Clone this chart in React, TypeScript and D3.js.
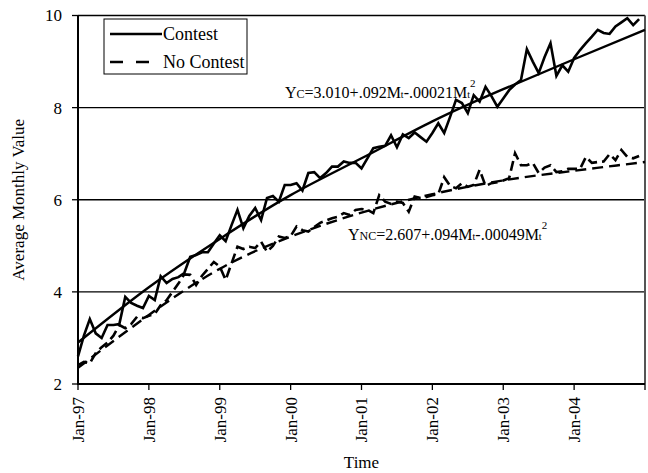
import React from "react";
import * as d3 from "d3";

const xTickLabels = ["Jan-97", "Jan-98", "Jan-99", "Jan-00", "Jan-01", "Jan-02", "Jan-03", "Jan-04"];
const yTicks = [2, 4, 6, 8, 10];

const contest = [
  2.6, 3.05, 3.41, 3.1, 3.0, 3.28, 3.28, 3.3, 3.89, 3.76, 3.7, 3.65,
  3.91, 3.82, 4.34, 4.19, 4.28, 4.32, 4.41, 4.76, 4.8, 4.86, 4.86, 5.05,
  5.23, 5.1, 5.45, 5.78, 5.38, 5.65, 5.82, 5.56, 6.04, 6.08, 5.96, 6.32,
  6.32, 6.36, 6.2, 6.58, 6.6, 6.47, 6.58, 6.72, 6.72, 6.83, 6.8, 6.8,
  6.68, 6.9, 7.12, 7.15, 7.17, 7.4, 7.14, 7.42, 7.34, 7.46, 7.36, 7.26,
  7.45, 7.66, 7.45, 7.8, 8.17, 8.1, 7.88, 8.27, 8.13, 8.45, 8.25, 8.02,
  8.2, 8.38, 8.5, 8.6, 9.27, 9.0, 8.75, 9.1, 9.4, 8.69, 8.92, 8.78,
  9.08, 9.25, 9.4, 9.54, 9.69, 9.62, 9.6, 9.76, 9.85, 9.94, 9.79, 9.92,
];

const noContest = [
  2.41, 2.48, 2.45, 2.67, 2.8, 2.9, 3.05, 3.28, 3.21, 3.3, 3.46, 3.43,
  3.48, 3.52, 3.71, 3.82, 4.0, 4.18, 4.38, 4.37, 4.15, 4.35, 4.5, 4.65,
  4.55, 4.26, 4.62, 4.98, 4.93, 4.98, 4.95, 5.09, 4.87, 5.0, 5.2, 5.17,
  5.21, 5.42, 5.34, 5.31, 5.41, 5.5, 5.55, 5.6, 5.63, 5.71, 5.67, 5.78,
  5.8, 5.78, 5.71, 6.1, 5.96, 5.91, 5.96, 5.93, 5.74, 6.07, 6.04, 6.06,
  6.1, 6.12, 6.49, 6.3, 6.25, 6.36, 6.28, 6.32, 6.65, 6.3, 6.36, 6.38,
  6.42, 6.47, 7.01, 6.75, 6.75, 6.8, 6.58, 6.7, 6.75, 6.6, 6.62, 6.67,
  6.67, 6.67, 6.93, 6.8, 6.82, 6.83, 6.99, 6.86, 7.08, 6.93, 6.9, 6.95,
];

const trendMonths = [0, 12, 24, 36, 48, 60, 72, 84, 96];
const contestTrend = [2.9, 4.1, 5.15, 6.1, 6.9, 7.7, 8.4, 9.05, 9.69];
const noContestTrend = [2.35, 3.5, 4.5, 5.2, 5.72, 6.12, 6.42, 6.63, 6.82];

const W = 648;
const H = 473;
const left = 78;
const right = 645;
const top = 15.5;
const bottom = 384;
const FONT = "'Liberation Serif', 'Times New Roman', Times, 'DejaVu Serif', 'Noto Serif', serif";
const ts = { fontFamily: FONT };

export default function App() {
  const x = d3.scaleLinear().domain([0, 96]).range([left, right]);
  const y = d3.scaleLinear().domain([2, 10]).range([bottom, top]);

  const dataLine = d3
    .line<number>()
    .x((_, i) => x(i))
    .y((d) => y(d));

  const trendLine = d3
    .line<number>()
    .x((_, i) => x(trendMonths[i]))
    .y((d) => y(d))
    .curve(d3.curveNatural);

  return (
    <svg
      width={W}
      height={H}
      style={{ position: "absolute", left: 0, top: 0, background: "#fff", fontFamily: FONT }}
    >
      <rect x={0} y={0} width={W} height={H} fill="#fff" />
      {yTicks
        .filter((t) => t > 2)
        .map((t) => (
          <line key={t} x1={left} x2={right} y1={y(t)} y2={y(t)} stroke="#000" strokeWidth={1.3} />
        ))}
      <line x1={right} x2={right} y1={top} y2={bottom} stroke="#555" strokeWidth={2} />
      <line x1={left} x2={right} y1={bottom} y2={bottom} stroke="#000" strokeWidth={2} />
      <line x1={left} x2={left} y1={top} y2={bottom + 1} stroke="#000" strokeWidth={2} />
      {yTicks.map((t) => (
        <g key={"yt" + t}>
          <line x1={left - 6} x2={left} y1={y(t)} y2={y(t)} stroke="#000" strokeWidth={1.3} />
          <text x={left - 16} y={y(t)} dy="0.35em" textAnchor="end" fontSize={17} style={ts}>
            {t}
          </text>
        </g>
      ))}
      {xTickLabels.map((lab, i) => {
        const tx = x(i * 12);
        return (
          <g key={lab}>
            <line x1={tx} x2={tx} y1={bottom} y2={bottom + 6} stroke="#000" strokeWidth={1.3} />
            <text
              transform={`translate(${tx},${bottom + 13}) rotate(-90)`}
              dy="0.35em"
              textAnchor="end"
              fontSize={17}
              style={ts}
            >
              {lab}
            </text>
          </g>
        );
      })}
      <line x1={right} x2={right} y1={bottom} y2={bottom + 6} stroke="#000" strokeWidth={1.3} />
      <text
        transform={`translate(24,${(top + bottom) / 2}) rotate(-90)`}
        textAnchor="middle"
        fontSize={17}
        style={ts}
      >
        Average Monthly Value
      </text>
      <text x={(left + right) / 2} y={468} textAnchor="middle" fontSize={17} style={ts}>
        Time
      </text>

      <path d={trendLine(contestTrend) || ""} fill="none" stroke="#000" strokeWidth={2.4} />
      <path
        d={trendLine(noContestTrend) || ""}
        fill="none"
        stroke="#000"
        strokeWidth={2.4}
        strokeDasharray="11,6"
      />
      <path d={dataLine(contest) || ""} fill="none" stroke="#000" strokeWidth={2.6} strokeLinejoin="miter" />
      <path
        d={dataLine(noContest) || ""}
        fill="none"
        stroke="#000"
        strokeWidth={2.6}
        strokeDasharray="10,5"
      />

      <text x={285} y={98} fontSize={16} style={ts}>
        Y<tspan fontSize={12}>C</tspan>=3.010+.092M<tspan fontSize={10}>t</tspan>-.00021M
        <tspan fontSize={10}>t</tspan>
        <tspan fontSize={11} dy={-11}>2</tspan>
      </text>
      <text x={348} y={240} fontSize={16} style={ts}>
        Y<tspan fontSize={12}>NC</tspan>=2.607+.094M<tspan fontSize={10}>t</tspan>-.00049M
        <tspan fontSize={10}>t</tspan>
        <tspan fontSize={11} dy={-11}>2</tspan>
      </text>

      <rect x={104} y={19} width={143} height={55} fill="#fff" stroke="#000" strokeWidth={1} />
      <line x1={110} x2={162} y1={34} y2={34} stroke="#000" strokeWidth={2.6} />
      <line x1={110} x2={162} y1={62} y2={62} stroke="#000" strokeWidth={2.6} strokeDasharray="13,13" />
      <text x={163} y={40} fontSize={18} style={ts}>
        Contest
      </text>
      <text x={163} y={68} fontSize={18} style={ts}>
        No Contest
      </text>
    </svg>
  );
}
